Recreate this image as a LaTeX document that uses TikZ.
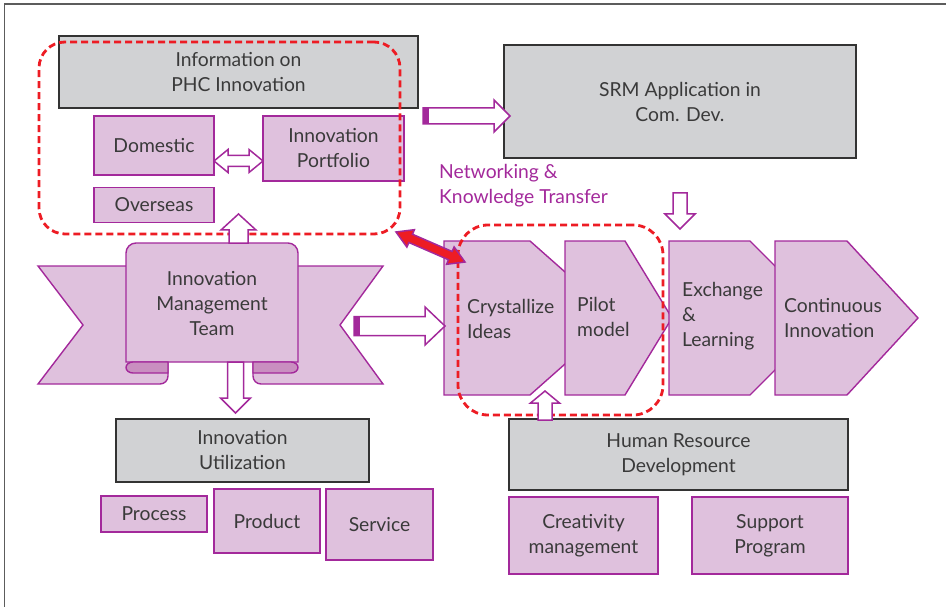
\documentclass[tikz,border=0pt]{standalone}
\usepackage{fontspec}
\setmainfont{Lato}
\usepackage{xcolor}
\usepackage{tikz}
\usetikzlibrary{arrows,positioning,calc}

\definecolor{boxgray}{HTML}{D1D2D4}
\definecolor{boxedge}{HTML}{333333}
\definecolor{lilac}{HTML}{DFC1DD}
\definecolor{darklilac}{HTML}{C98FC0}
\definecolor{plum}{HTML}{A3299B}
\definecolor{dashred}{HTML}{ED1C24}
\definecolor{inktext}{HTML}{3A3A3A}

% hollow block arrow: [style]{from}{to}{half shaft}{half head}{head length}
\newcommand{\hollowarrow}[6][]{%
  \coordinate (hbase) at ($(#3)!#6!(#2)$);
  \draw[hollow,#1] ($(#2)!#4!90:(#3)$) -- ($(hbase)!#4!90:(#3)$) -- ($(hbase)!#5!90:(#3)$) -- (#3)
    -- ($(hbase)!#5!-90:(#3)$) -- ($(hbase)!#4!-90:(#3)$) -- ($(#2)!#4!-90:(#3)$) -- cycle;
}
% same, with a head at both ends
\newcommand{\hollowdarrow}[6][]{%
  \coordinate (hbasea) at ($(#2)!#6!(#3)$);
  \coordinate (hbaseb) at ($(#3)!#6!(#2)$);
  \draw[hollow,#1] (#2) -- ($(hbasea)!#5!90:(#3)$) -- ($(hbasea)!#4!90:(#3)$) -- ($(hbaseb)!#4!90:(#3)$)
    -- ($(hbaseb)!#5!90:(#3)$) -- (#3) -- ($(hbaseb)!#5!-90:(#3)$) -- ($(hbaseb)!#4!-90:(#3)$)
    -- ($(hbasea)!#4!-90:(#3)$) -- ($(hbasea)!#5!-90:(#3)$) -- cycle;
}
% solid end block on an arrow: {from}{to}{half shaft}{depth}
\newcommand{\arrowtail}[4]{%
  \coordinate (htail) at ($(#1)!#4!(#2)$);
  \fill[plum] ($(#1)!#3!90:(#2)$) -- ($(htail)!#3!90:(#2)$) -- ($(htail)!#3!-90:(#2)$) -- ($(#1)!#3!-90:(#2)$) -- cycle;
}

\begin{document}
\begin{tikzpicture}[x=1pt, y=-1pt, font=\fontsize{19.3}{25}\selectfont, text=inktext]
    % Styles
    \tikzstyle{header} = [rectangle, draw=boxedge, fill=boxgray, line width=1.6pt, align=center, inner sep=0pt]
    \tikzstyle{item} = [rectangle, draw=plum, fill=lilac, line width=1.4pt, align=center, inner sep=0pt]
    \tikzstyle{redframe} = [rectangle, draw=dashred, line width=2.8pt, dash pattern=on 7pt off 4pt, rounded corners=26pt, inner sep=0pt]
    \tikzstyle{hollow} = [draw=plum, fill=white, line width=1.5pt]
    \tikzstyle{ribbon} = [draw=plum, fill=lilac, line width=1.4pt]

    \useasboundingbox (0,0) rectangle (946,607);
    \draw[boxedge!80, line width=1.5pt] (4.5,607) -- (4.5,4) -- (946,4);

    % Nodes - information block
    \node [header, minimum width=359pt, minimum height=72pt] (info) at (238.5,72) {Information on\\PHC Innovation};
    \node [item, minimum width=120pt, minimum height=59pt] (domestic) at (154,145.5) {Domestic};
    \node [item, minimum width=141pt, minimum height=65pt] (portfolio) at (333.5,148.5) {Innovation\\Portfolio};
    \node [item, minimum width=120pt, minimum height=35pt, below=11pt of domestic] (overseas) {Overseas};

    % Nodes - SRM and networking
    \node [header, minimum width=352pt, minimum height=113pt] (srm) at (680,101.5) {SRM Application in\\Com. Dev.};
    \node [text=plum, align=left, anchor=west, inner sep=0pt] (netlabel) at (439,186) {Networking \&\\Knowledge Transfer};

    % Banner - management team
    \draw[ribbon] (83,325) -- (38,266) -- (140,266) -- (140,362) -- (168,362) -- (168,376)
        arc[start angle=0, end angle=-90, radius=8pt] -- (38,384) -- cycle;
    \draw[ribbon] (340,325) -- (383,266) -- (283,266) -- (283,362) -- (253,362) -- (253,376)
        arc[start angle=180, end angle=270, radius=8pt] -- (383,384) -- cycle;
    \draw[ribbon] (126,362) -- (126,253) arc[start angle=180, end angle=90, radius=10pt] -- (288,243)
        arc[start angle=90, end angle=0, radius=10pt] -- (298,362) -- cycle;
    \draw[ribbon, fill=darklilac] (168,362) -- (133,362)
        arc[start angle=90, end angle=270, x radius=7pt, y radius=5.5pt] -- (168,373) -- cycle;
    \draw[ribbon, fill=darklilac] (253,362) -- (291,362)
        arc[start angle=90, end angle=-90, x radius=7pt, y radius=5.5pt] -- (253,373) -- cycle;
    \node [align=center, minimum width=172pt, minimum height=119pt, inner sep=0pt] (imteam) at (212,304) {Innovation\\Management\\Team};

    % Process chain
    \draw[ribbon] (444,241) -- (530,241) -- (617,318) -- (530,395) -- (444,395) -- cycle;
    \node [align=left, anchor=west, inner sep=0pt] (crystal) at (467,319) {Crystallize\\Ideas};
    \draw[ribbon] (565,241) -- (625,241) -- (672,318) -- (625,395) -- (565,395) -- cycle;
    \node [align=left, anchor=west, inner sep=0pt] (pilot) at (577,317) {Pilot\\model};
    \draw[ribbon] (669,241) -- (750,241) -- (827,318) -- (750,395) -- (669,395) -- cycle;
    \node [align=left, anchor=west, inner sep=0pt] (exchange) at (682,316) {Exchange\\\&\\Learning};
    \draw[ribbon] (775,241) -- (847,241) -- (918,318) -- (847,395) -- (775,395) -- cycle;
    \node [align=left, anchor=west, inner sep=0pt] (continuous) at (784,318) {Continuous\\Innovation};

    % Nodes - utilization
    \node [header, minimum width=253pt, minimum height=63pt] (utilization) at (242.5,450.5) {Innovation\\Utilization};
    \node [item, minimum width=106pt, minimum height=36pt] (process) at (154,514) {Process};
    \node [item, minimum width=106pt, minimum height=64pt] (product) at (267,521) {Product};
    \node [item, minimum width=107pt, minimum height=71pt] (service) at (379.5,524.5) {Service};

    % Nodes - human resources
    \node [header, minimum width=339pt, minimum height=71pt] (hrd) at (678.5,454.5) {Human Resource\\Development};
    \node [item, minimum width=149pt, minimum height=77pt] (creativity) at (583.5,535.5) {Creativity\\management};
    \node [item, minimum width=156pt, minimum height=77pt] (support) at (770,535.5) {Support\\Program};

    % Dashed groups
    \node [redframe, minimum width=361pt, minimum height=192pt] (infoframe) at (219.5,138) {};
    \node [redframe, minimum width=205pt, minimum height=190pt, rounded corners=30pt] (pilotframe) at (560.5,320) {};

    % Arrows
    \coordinate (upfoot) at (238.5,243);
    \coordinate (uptip) at (238.5,214);
    \hollowarrow{upfoot}{uptip}{9.5pt}{17.5pt}{16pt}
    \coordinate (downfoot) at (235.5,362);
    \coordinate (downtip) at (235.5,413);
    \hollowarrow{downfoot}{downtip}{8pt}{15pt}{15pt}
    \coordinate (midtail) at (354,326);
    \coordinate (midtip) at (445,326);
    \hollowarrow{midtail}{midtip}{9.5pt}{19pt}{20pt}
    \arrowtail{midtail}{midtip}{9.5pt}{6pt}
    \coordinate (toptail) at (423,116);
    \coordinate (toptip) at (510,116);
    \hollowarrow{toptail}{toptip}{8pt}{16pt}{16pt}
    \arrowtail{toptail}{toptip}{8pt}{6pt}
    \coordinate (srmfoot) at (680,193);
    \coordinate (srmtip) at (680,229);
    \hollowarrow{srmfoot}{srmtip}{7pt}{15pt}{15pt}
    \coordinate (hrfoot) at (545,420);
    \coordinate (hrtip) at (545,391);
    \hollowarrow{hrfoot}{hrtip}{7pt}{14.5pt}{12pt}
    \coordinate (domright) at (214,161);
    \coordinate (portleft) at (263,161);
    \hollowdarrow{domright}{portleft}{5.5pt}{11.5pt}{14pt}
    \coordinate (netleft) at (396,232);
    \coordinate (netright) at (465,262);
    \hollowdarrow[fill=dashred]{netleft}{netright}{4.5pt}{9.5pt}{16pt}
\end{tikzpicture}
\end{document}
